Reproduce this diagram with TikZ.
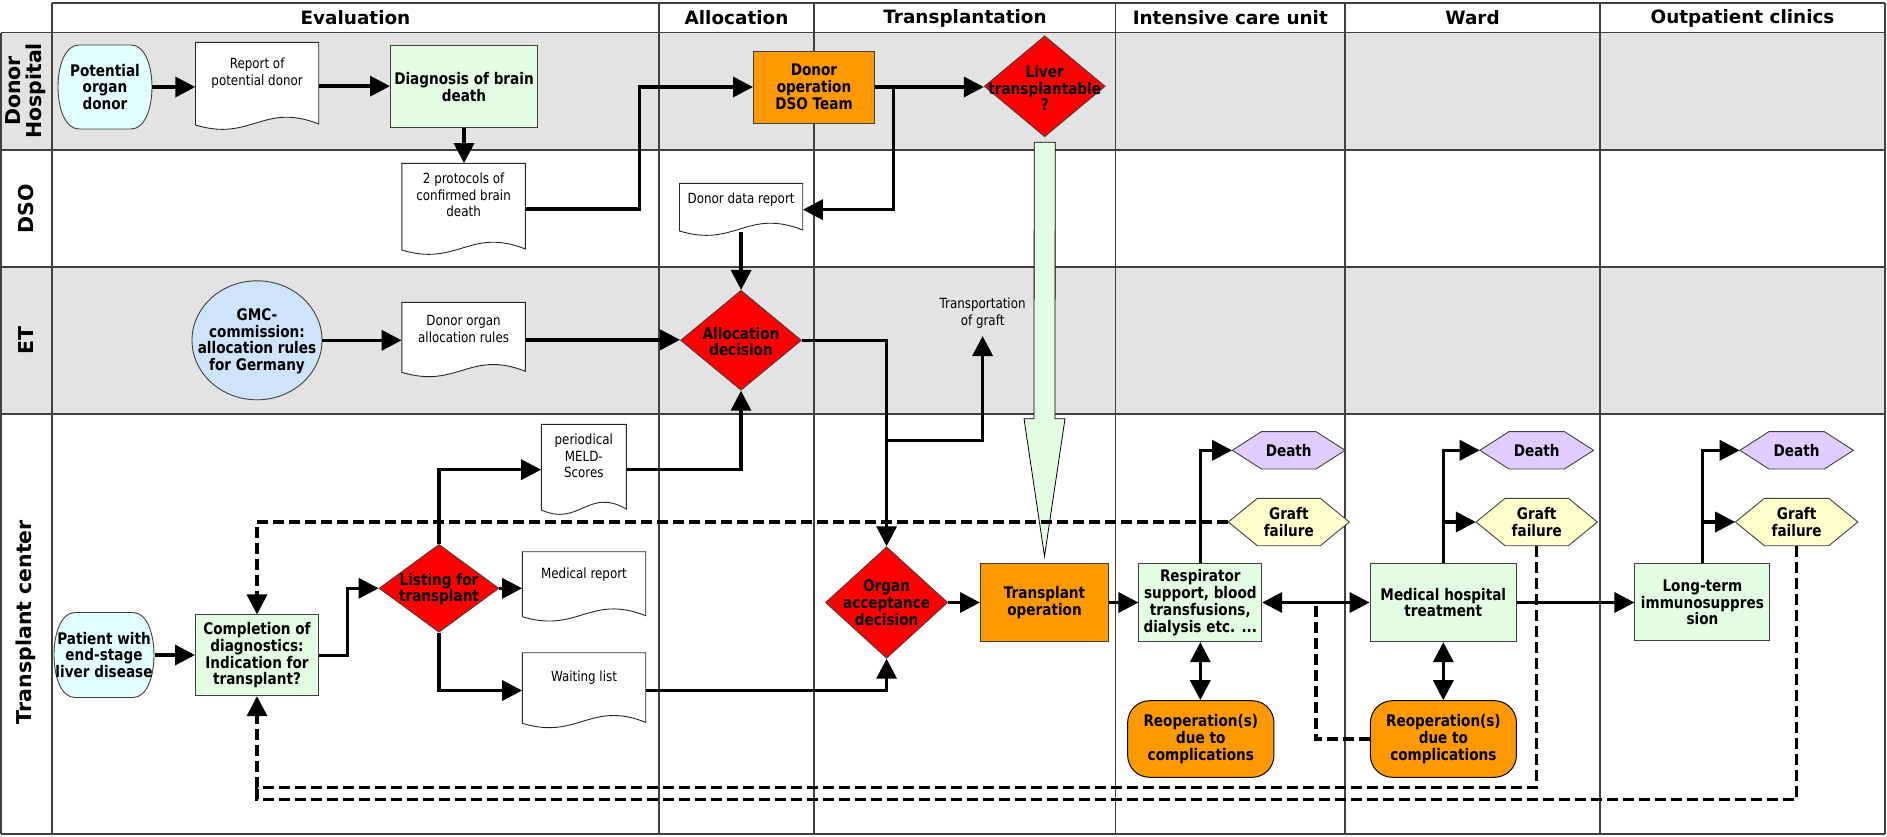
\documentclass[tikz,border=0pt]{standalone}
\usepackage{fontspec}
\setmainfont{DejaVu Sans}[FakeStretch=0.85]
\newfontfamily\headfont{DejaVu Sans}
\usetikzlibrary{arrows.meta,shapes.geometric,calc}

\definecolor{lanegrey}{HTML}{E3E3E3}
\definecolor{gridcol}{HTML}{404040}
\definecolor{mint}{HTML}{E3FDE3}
\definecolor{ice}{HTML}{E1FFFF}
\definecolor{sky}{HTML}{CDE4FA}
\definecolor{amber}{HTML}{FF9900}
\definecolor{lilac}{HTML}{E0CCFF}
\definecolor{cream}{HTML}{FFFFCC}
\definecolor{shapeline}{HTML}{404040}

\tikzset{
  boxtext/.style={font=\fontsize{16}{16.8}\selectfont\bfseries, align=center, inner sep=2pt},
  plaintext/.style={font=\fontsize{14}{16.5}\selectfont, align=center, inner sep=1pt},
  procbox/.style={boxtext, rectangle, draw=shapeline, line width=1pt},
  greenbox/.style={procbox, fill=mint},
  orangebox/.style={procbox, fill=amber},
  reopbox/.style={procbox, fill=amber, draw=black, rounded corners=22pt},
  decision/.style={diamond, draw=shapeline, line width=0.8pt, fill=red, inner sep=0pt},
  docshape/.style={draw=black!85, line width=0.9pt, fill=white},
  docbox/.style={rectangle, inner sep=0pt},
  termshape/.style={draw=shapeline, line width=0.9pt, fill=ice},
  hexshape/.style={draw=shapeline, line width=0.9pt},
  hextext/.style={boxtext, inner sep=0pt},
  flow/.style={line width=3.5pt, -{Triangle[length=20pt,width=20pt]}},
  both/.style={line width=3.5pt, {Triangle[length=20pt,width=20pt]}-{Triangle[length=20pt,width=20pt]}},
  back/.style={line width=3.5pt, dash pattern=on 11pt off 5pt},
  backarrow/.style={back, -{Triangle[length=20pt,width=20pt]}},
  gridline/.style={draw=gridcol, line width=1.3pt},
  lanelabel/.style={font=\headfont\fontsize{20.5}{21}\selectfont\bfseries, rotate=90, align=center},
  colhead/.style={font=\headfont\fontsize{18.4}{20}\selectfont\bfseries},
}

% terminator: name, cx, cy, w, h, text
\newcommand\termnode[6]{%
  \filldraw[termshape] ({#2-#4/2+21},{#3-#5/2}) -- ({#2+#4/2-21},{#3-#5/2})
    .. controls ({#2+#4/2+7},{#3-#5/2}) and ({#2+#4/2+7},{#3+#5/2}) .. ({#2+#4/2-21},{#3+#5/2})
    -- ({#2-#4/2+21},{#3+#5/2})
    .. controls ({#2-#4/2-7},{#3+#5/2}) and ({#2-#4/2-7},{#3-#5/2}) .. ({#2-#4/2+21},{#3-#5/2}) -- cycle;
  \node[boxtext, minimum width=#4, minimum height=#5] (#1) at (#2,#3) {#6};}

% document: name, x0, y0, x1, y1 (wave bottom), text y, text
\newcommand\docnode[7]{%
  \filldraw[docshape] (#2,#3) -- (#4,#3) -- (#4,{#5-6})
    .. controls ({#2+0.55*(#4-#2)},{#5-28}) and ({#2+0.45*(#4-#2)},{#5+12}) .. (#2,{#5-5}) -- cycle;
  \node[docbox, minimum width={#4-#2}, minimum height={#5-#3}] (#1) at ({(#2+#4)/2},{(#3+#5)/2}) {};
  \node[plaintext] (#1-t) at ({(#2+#4)/2},#6) {#7};}

% hexagon: [style] name, cx, cy, w, h, text
\newcommand\hexnode[7][]{%
  \filldraw[hexshape,#1] ({#3-#5/2},#4) -- ({#3-#5/2+29},{#4-#6/2}) -- ({#3+#5/2-29},{#4-#6/2})
    -- ({#3+#5/2},#4) -- ({#3+#5/2-29},{#4+#6/2}) -- ({#3-#5/2+29},{#4+#6/2}) -- cycle;
  \node[hextext, minimum width=#5, minimum height=#6] (#2) at (#3,#4) {#7};}

\begin{document}
\begin{tikzpicture}[x=1pt,y=-1pt]
\useasboundingbox (0,0) rectangle (1887,836);

% swimlanes
\fill[lanegrey] (1,32.5) rectangle (1885,150);
\fill[lanegrey] (1,267) rectangle (1885,414);
\foreach \yy in {32.5,150,267,414,834} \draw[gridline] (1,\yy) -- (1885,\yy);
\draw[gridline] (52,3) -- (1885,3);
\draw[gridline] (1,32.5) -- (1,834);
\foreach \xx in {52,659,814,1115.6,1345,1600,1885} \draw[gridline] (\xx,3) -- (\xx,834);

% column heads
\node[colhead] (h-eval) at (355.5,18) {Evaluation};
\node[colhead] (h-alloc) at (736.5,18) {Allocation};
\node[colhead] (h-tx) at (965,18) {Transplantation};
\node[colhead] (h-icu) at (1230.3,18) {Intensive care unit};
\node[colhead] (h-ward) at (1472.5,18) {Ward};
\node[colhead] (h-out) at (1742.5,18) {Outpatient clinics};

% lane labels
\node[lanelabel] (l-dh) at (26,91) {Donor\\Hospital};
\node[lanelabel] (l-dso) at (26,208.5) {DSO};
\node[lanelabel] (l-et) at (26,340.5) {ET};
\node[lanelabel] (l-tc) at (26,622) {Transplant center};

% donor hospital
\termnode{pod}{105}{87}{94}{84}{Potential\\organ\\donor}
\docnode{rep}{195.5}{42.3}{318.75}{130}{73}{Report of\\potential donor}
\node[greenbox, minimum width=147, minimum height=82] (diag) at (464,86.7) {Diagnosis of brain\\death};
\node[orangebox, minimum width=121, minimum height=72] (donop) at (814,87) {Donor\\operation\\DSO Team};
\node[decision, minimum width=121, minimum height=101] (liver) at (1044.7,86.3) {};
\node[boxtext] (liver-t) at (1044.7,88) {Liver\\transplantable\\?};

% DSO
\docnode{prot}{401.8}{163.3}{525.4}{255}{195}{2 protocols of\\confirmed brain\\death}
\docnode{ddr}{679.5}{183.3}{802.7}{236}{200}{Donor data report}

% ET
\node[ellipse, draw=shapeline, line width=0.9pt, fill=sky, minimum width=130, minimum height=119, inner sep=0pt] (gmc) at (257,340.3) {};
\node[boxtext] (gmc-t) at (257,341.3) {GMC-\\commission:\\allocation rules\\for Germany};
\docnode{dor}{401.8}{302.3}{525.4}{377.3}{329}{Donor organ\\allocation rules}
\node[decision, minimum width=121, minimum height=100] (alloc) at (741,340.3) {};
\node[boxtext] (alloc-t) at (741,341.5) {Allocation\\decision};
\node[plaintext] (trg) at (982.6,313) {Transportation\\of graft};
\coordinate (trg-in) at (982.6,336);

% transplant center
\docnode{meld}{541.3}{424.3}{626.3}{515}{456}{periodical\\MELD-\\Scores}
\node[decision, minimum width=120, minimum height=88] (list) at (439,588.3) {};
\node[boxtext] (list-t) at (439,589) {Listing for\\transplant};
\docnode{medrep}{522.3}{551.7}{645.7}{621.7}{575}{Medical report}
\docnode{wait}{522.3}{652.7}{645.7}{728.3}{677.7}{Waiting list}
\termnode{pat}{104}{655}{100}{85}{Patient with\\end-stage\\liver disease}
\node[greenbox, minimum width=123, minimum height=80.7] (compl) at (257,655.3) {Completion of\\diagnostics:\\Indication for\\transplant?};
\node[decision, minimum width=122.4, minimum height=111.6] (organ) at (886.6,602.5) {};
\node[boxtext] (organ-t) at (886.6,602.5) {Organ\\acceptance\\decision};
\node[orangebox, minimum width=128, minimum height=78.3] (txop) at (1044.5,602.5) {Transplant\\operation};
\node[greenbox, minimum width=122.7, minimum height=78.3] (resp) at (1200.3,602.5) {Respirator\\support, blood\\transfusions,\\dialysis etc. ...};
\node[reopbox, minimum width=146.3, minimum height=76.6] (reop1) at (1200.8,739) {Reoperation(s)\\due to\\complications};
\node[greenbox, minimum width=146.3, minimum height=78.3] (med) at (1443.3,602.5) {Medical hospital\\treatment};
\node[reopbox, minimum width=146, minimum height=76.6] (reop2) at (1443.4,739) {Reoperation(s)\\due to\\complications};
\node[greenbox, minimum width=135, minimum height=76.7] (lt) at (1702.4,602.3) {Long-term\\immunosuppres\\sion};
\hexnode[fill=lilac]{death1}{1288.7}{450.3}{112.7}{37.3}{Death}
\hexnode[fill=cream]{graft1}{1288.8}{522}{121}{47.4}{Graft\\failure}
\hexnode[fill=lilac]{death2}{1536.7}{450.3}{113.6}{37.3}{Death}
\hexnode[fill=cream]{graft2}{1536.7}{522}{121.3}{47.4}{Graft\\failure}
\hexnode[fill=lilac]{death3}{1796.6}{450.3}{113.5}{37.3}{Death}
\hexnode[fill=cream]{graft3}{1796.6}{522}{122.4}{47.4}{Graft\\failure}

% block arrow: transplantable liver goes to the transplant operation
\coordinate (ga) at ($(liver.south)+(0,5)$);
\coordinate (gb) at ($(txop.north)+(0,-6.6)$);
\filldraw[draw=black, line width=0.8pt, fill=mint]
  ($(ga)+(-10.5,0)$) -- ($(ga)+(10.5,0)$) -- ($(gb)+(10.5,-137.5)$) -- ($(gb)+(20.5,-137.5)$)
  -- (gb) -- ($(gb)+(-20.5,-137.5)$) -- ($(gb)+(-10.5,-137.5)$) -- cycle;

% process flow
\draw[flow] (pod.east) -- (pod.east -| rep.west);
\draw[flow] (rep.east) -- (rep.east -| diag.west);
\draw[flow] (diag.south) -- (diag.south |- prot.north);
\draw[flow] (prot.east) -- ++(113.9,0) |- (donop.west);
\draw[flow] (donop.east) -- (donop.east -| liver.west);
\coordinate (b1) at ($(donop.east)+(18.7,0)$);
\draw[flow] (b1) |- (ddr.east);
\draw[flow] ($(ddr.south)+(0,-4)$) -- (ddr.south |- alloc.north);
\draw[flow] (gmc.east) -- (gmc.east -| dor.west);
\draw[flow] (dor.east) -- (dor.east -| alloc.west);
\draw[flow] (meld.east) -| (alloc.south);
\draw[flow] (alloc.east) -| (organ.north);
\coordinate (b2) at ($(organ.north)+(0,-105.7)$);
\draw[flow] (b2) -| (trg-in);
\draw[flow] (compl.east) -- ++(28.5,0) |- (list.west);
\draw[flow] (list.east) -- (list.east -| medrep.west);
\draw[flow] (list.south) |- (wait.west);
\draw[flow] (list.north) |- (meld.west);
\draw[flow] (wait.east) -| (organ.south);
\draw[flow] (pat.east) -- (pat.east -| compl.west);
\draw[flow] (organ.east) -- (organ.east -| txop.west);
\draw[flow] (txop.east) -- (txop.east -| resp.west);
\draw[both] (resp.east) -- (resp.east -| med.west);
\draw[both] (resp.south) -- (resp.south |- reop1.north);
\draw[both] (med.south) -- (med.south |- reop2.north);
\draw[flow] (med.east) -- (med.east -| lt.west);
\draw[flow] (resp.north) |- (death1.west);
\draw[flow] (med.north) |- (death2.west);
\draw[flow] (med.north) |- (graft2.west);
\draw[flow] (lt.north) |- (death3.west);
\draw[flow] (lt.north) |- (graft3.west);

% return paths after graft failure / reoperation
\coordinate (lowA) at (0,787.3);
\coordinate (lowB) at (0,799.3);
\draw[backarrow] (graft1.west) -| (compl.north);
\draw[backarrow] (graft2.south) -- (graft2.south |- lowA) -| (compl.south);
\draw[back] (graft3.south) -- (graft3.south |- lowB) -- (compl.south |- lowB) -- (compl.south |- lowA);
\coordinate (j3) at ($(resp.east)!0.5!(med.west)$);
\draw[back] (reop2.west) -| (j3);
\end{tikzpicture}
\end{document}
